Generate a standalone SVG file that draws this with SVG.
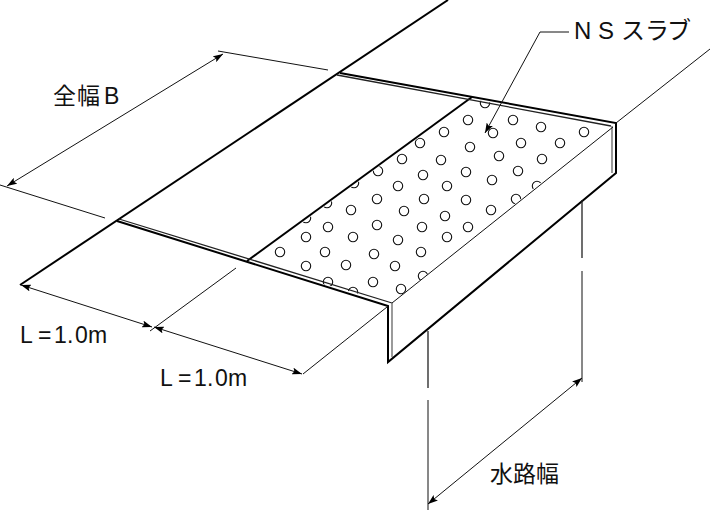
<svg xmlns="http://www.w3.org/2000/svg" width="710" height="512" viewBox="0 0 710 512">
<style>
.k{stroke:#000;fill:none;stroke-width:2}
.m{stroke:#222;fill:none;stroke-width:1.3}
.t{stroke:#111;fill:none;stroke-width:1}
.g{stroke:#666;fill:none;stroke-width:1.3}
.d{stroke:#111;fill:none;stroke-width:1;marker-start:url(#a);marker-end:url(#a)}
.c circle{fill:#fff;stroke:#111;stroke-width:1.1;r:4.7px}
text{font-family:"Liberation Sans","Noto Sans CJK JP",sans-serif;font-size:23px;fill:#111}
</style>
<defs>
<marker id="a" markerUnits="userSpaceOnUse" markerWidth="11" markerHeight="7" refX="10" refY="3.5" orient="auto-start-reverse"><path d="M0 0L10 3.5L0 7L2 3.5Z" fill="#000"/></marker>
<clipPath id="slab"><polygon points="472,99 611,126 392,303 247,263"/></clipPath>
</defs>
<rect width="710" height="512" fill="#fff"/>
<g id="dots" class="c" clip-path="url(#slab)">
<circle cx="485" cy="103"/><circle cx="468" cy="120"/><circle cx="513" cy="120"/><circle cx="541" cy="127"/><circle cx="584" cy="132"/><circle cx="493" cy="133"/><circle cx="444" cy="132"/><circle cx="420" cy="143"/><circle cx="470" cy="147"/><circle cx="521" cy="143"/><circle cx="560" cy="143"/><circle cx="402" cy="159"/><circle cx="441" cy="160"/><circle cx="499" cy="156"/><circle cx="542" cy="159"/><circle cx="378" cy="171"/><circle cx="423" cy="175"/><circle cx="466" cy="172"/><circle cx="518" cy="171"/><circle cx="398" cy="186"/><circle cx="447" cy="186"/><circle cx="492" cy="180"/><circle cx="537" cy="186"/><circle cx="377" cy="199"/><circle cx="424" cy="199"/><circle cx="466" cy="200"/><circle cx="516" cy="199"/><circle cx="351" cy="210"/><circle cx="404" cy="211"/><circle cx="445" cy="216"/><circle cx="491" cy="210"/><circle cx="328" cy="227"/><circle cx="377" cy="225"/><circle cx="422" cy="227"/><circle cx="468" cy="227"/><circle cx="306" cy="237"/><circle cx="353" cy="237"/><circle cx="398" cy="240"/><circle cx="447" cy="237"/><circle cx="280" cy="252"/><circle cx="325" cy="252"/><circle cx="374" cy="254"/><circle cx="421" cy="252"/><circle cx="306" cy="266"/><circle cx="346" cy="265"/><circle cx="395" cy="266"/><circle cx="423" cy="276"/><circle cx="328" cy="282"/><circle cx="373" cy="282"/><circle cx="401" cy="289"/><circle cx="353" cy="292"/><circle cx="327" cy="203"/><circle cx="306" cy="218"/><circle cx="354" cy="183"/>
</g>
<g id="structure">
<path class="k" d="M20 285L448 0"/>
<path class="k" d="M340 73L616 123V173L388 362V306L117 221"/>
<path class="k" d="M247 261L472 97"/>
<path class="m" d="M337 75L611 126"/>
<path class="m" d="M119 219L392 303"/>
<path class="g" d="M392 303V357M612 126V173"/>
<path class="t" d="M392 303L613 127M616 123L710 49"/>
<path class="m" d="M428 331V388M582 200V258"/>
</g>
<g id="connectors">
<path class="t" d="M428 400V510M582 271V382"/>
<path class="t" d="M0 185L105 218M218 51L328 70"/>
<path class="t" d="M150 331L236 268M303 374L387 307"/>
<path class="d" d="M7 186L223 54"/>
<path class="d" d="M21 285L152 327"/>
<path class="d" d="M154 327L302 374"/>
<path class="d" d="M428 504L582 378"/>
<path class="t" d="M569 32H540L485 133" style="marker-end:url(#a)"/>
</g>
<g id="labels">
<text x="574 598 621 645 667" y="39" style="font-size:24px">NSスラブ</text>
<text x="53 77 104" y="104">全幅B</text>
<text x="20 38 54 67 75 88" y="343">L=1.0m</text>
<text x="160 178 194 207 215 228" y="386">L=1.0m</text>
<text x="490 513 536" y="482">水路幅</text>
</g>
</svg>
